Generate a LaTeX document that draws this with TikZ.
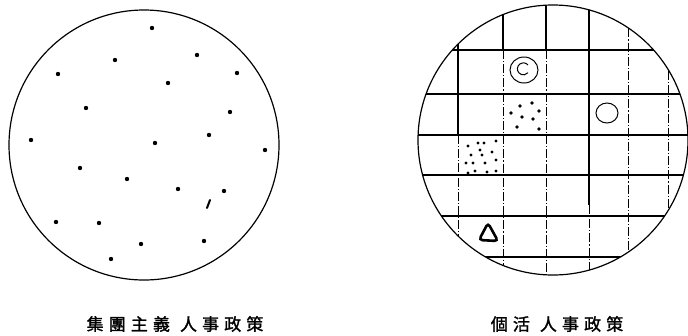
\documentclass[tikz,border=0pt]{standalone}
\usepackage{fontspec}
\newfontfamily\cjkfont{Noto Sans CJK TC}[LetterSpace=30, FakeBold=1.5]
\usepackage{tikz}

\begin{document}
\begin{tikzpicture}[
    x=1pt, y=-1pt,
    rim/.style={line width=1.2pt},
    grid rule/.style={line width=1.2pt},
    grid dash/.style={line width=1pt, dash pattern=on 9pt off 2pt on 1.2pt off 2pt},
    caption/.style={font=\cjkfont\fontsize{17}{17}\selectfont, inner sep=0pt}
]
    \useasboundingbox (0,0) rectangle (688,335);

    % Left disc: scattered members
    \coordinate (Lc) at (144,145);
    \draw[rim] (Lc) circle (135pt);
    \foreach \p in {(152,28),(197,55),(115,60),(237,73),(58,74),(168,83),
                    (86,108),(230,112),(31,140),(155,143),(209,135),(265,150),
                    (80,168),(127,179),(178,189),(224,191),(56,222),(99,223),
                    (141,244),(204,241),(111,259)}
        \fill \p circle (2.2pt);
    \draw[line width=2pt, line cap=round] (207,208) -- (210,200); % odd streak

    % Right disc: grid of cells
    \coordinate (Rc) at (553,140);
    \begin{scope}
        \clip (Rc) circle (135pt);
        \foreach \y in {50,94,135,175,216,257}
            \draw[grid rule] (410,\y) -- (700,\y);
        % vertical rules, partly dash-dotted
        \draw[grid rule] (458,0) -- (458,135);
        \draw[grid dash] (458,135) -- (458,300);
        \draw[grid rule] (503,0) -- (503,50);
        \draw[grid dash] (503,50) -- (503,300);
        \draw[grid rule] (546,0) -- (546,50);
        \draw[grid dash] (546,50) -- (546,300);
        \draw[grid rule] (589,0) -- (589,205);
        \draw[grid dash] (589,205) -- (589,300);
        \draw[grid dash] (628,0) -- (628,300);
        \draw[grid dash] (668,0) -- (668,300);
    \end{scope}
    \draw[rim] (Rc) circle (135pt);

    % marks inside the cells
    \draw[line width=1pt] (524,70) ellipse (14pt and 13pt);
    \draw[line width=1pt] (528,65) arc (40:320:6pt);
    \draw[line width=1pt] (607,113) ellipse (11pt and 10pt);
    \foreach \p in {(520,106),(532,103),(539,111),(511,113),(522,117),(533,119),
                    (517,127),(539,129)}
        \fill \p circle (1.8pt);
    \foreach \p in {(468,146),(478,143),(484,143),(496,141),(480,150),(471,155),
                    (482,155),(492,152),(466,163),(473,163),(485,163),(496,160),
                    (475,171),(487,172),(496,171),(468,173)}
        \fill \p circle (1.7pt);
    \draw[line width=2.6pt, rounded corners=3.5pt] (488,223) -- (498,241) -- (479,240) -- cycle;

    % captions
    \node[caption] (leftcap) at (175,324) {集團主義\hspace{10pt}人事政策};
    \node[caption] (rightcap) at (557,324) {個活\hspace{10pt}人事政策};

\end{tikzpicture}
\end{document}
